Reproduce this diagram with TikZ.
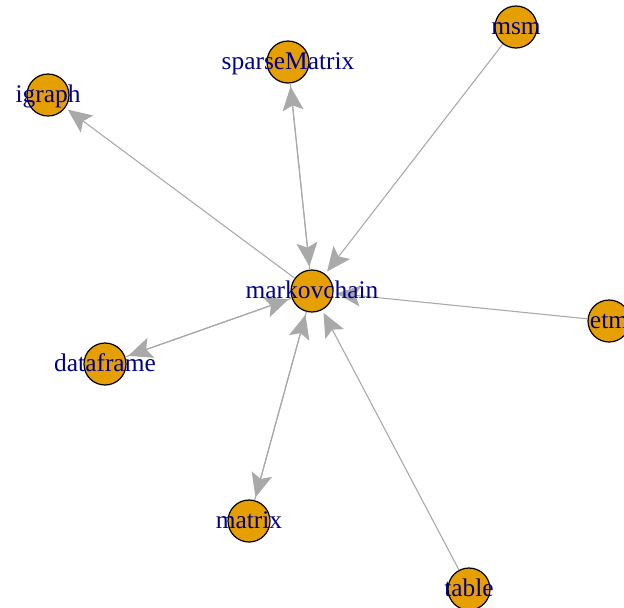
\documentclass[tikz,border=0pt]{standalone}
\usepackage{fontspec}
\setmainfont{Liberation Serif}
\usetikzlibrary{arrows.meta}
\definecolor{vfill}{HTML}{E69F00}
\definecolor{vlabel}{HTML}{00008B}
\definecolor{edgegray}{HTML}{A9A9A9}
\begin{document}
\begin{tikzpicture}[x=0.5pt,y=-0.5pt,
    vertex/.style={circle,draw=black,line width=0.6pt,fill=vfill,minimum size=21pt,inner sep=0pt},
    vlbl/.style={text=vlabel,font=\fontsize{12.7pt}{14pt}\selectfont,inner sep=0pt,
        text height=0.7em,text depth=0pt},
    edge/.style={draw=edgegray,line width=0.55pt,shorten >=1.5pt,
        -{Stealth[length=12pt,width=10.5pt,inset=2.5pt]}}]

    % Frame of the picture, in pixels of the reference
    \useasboundingbox (0,0) rectangle (624,607);
    \clip (0,0) rectangle (624,607);

    % Vertices at the positions of the layout
    \node[vertex] (mc) at (312,291) {};  % markovchain, in the middle
    \node[vertex] (sm) at (288,62) {};   % sparseMatrix
    \node[vertex] (ig) at (48,95) {};    % igraph
    \node[vertex] (ms) at (516,27) {};   % msm
    \node[vertex] (et) at (609,321) {};  % etm, cut by the right edge
    \node[vertex] (df) at (105,364) {};  % dataframe
    \node[vertex] (mx) at (249,521) {};  % matrix
    \node[vertex] (tb) at (469,589) {};  % table, cut by the bottom edge

    % Edges out of markovchain
    \draw[edge] (mc) -- (ig);
    \draw[edge] (mc) -- (sm);
    \draw[edge] (mc) -- (df);
    \draw[edge] (mc) -- (mx);

    % Edges into markovchain
    \draw[edge] (sm) -- (mc);
    \draw[edge] (ms) -- (mc);
    \draw[edge] (et) -- (mc);
    \draw[edge] (df) -- (mc);
    \draw[edge] (mx) -- (mc);
    \draw[edge] (tb) -- (mc);

    % Labels on top of everything
    \node[vlbl] (mc-l) at (mc) {markovchain};
    \node[vlbl] (sm-l) at (sm) {sparseMatrix};
    \node[vlbl] (ig-l) at (ig) {igraph};
    \node[vlbl] (ms-l) at (ms) {msm};
    \node[vlbl] (et-l) at (et) {etm};
    \node[vlbl] (df-l) at (df) {dataframe};
    \node[vlbl] (mx-l) at (mx) {matrix};
    \node[vlbl] (tb-l) at (tb) {table};

\end{tikzpicture}
\end{document}
